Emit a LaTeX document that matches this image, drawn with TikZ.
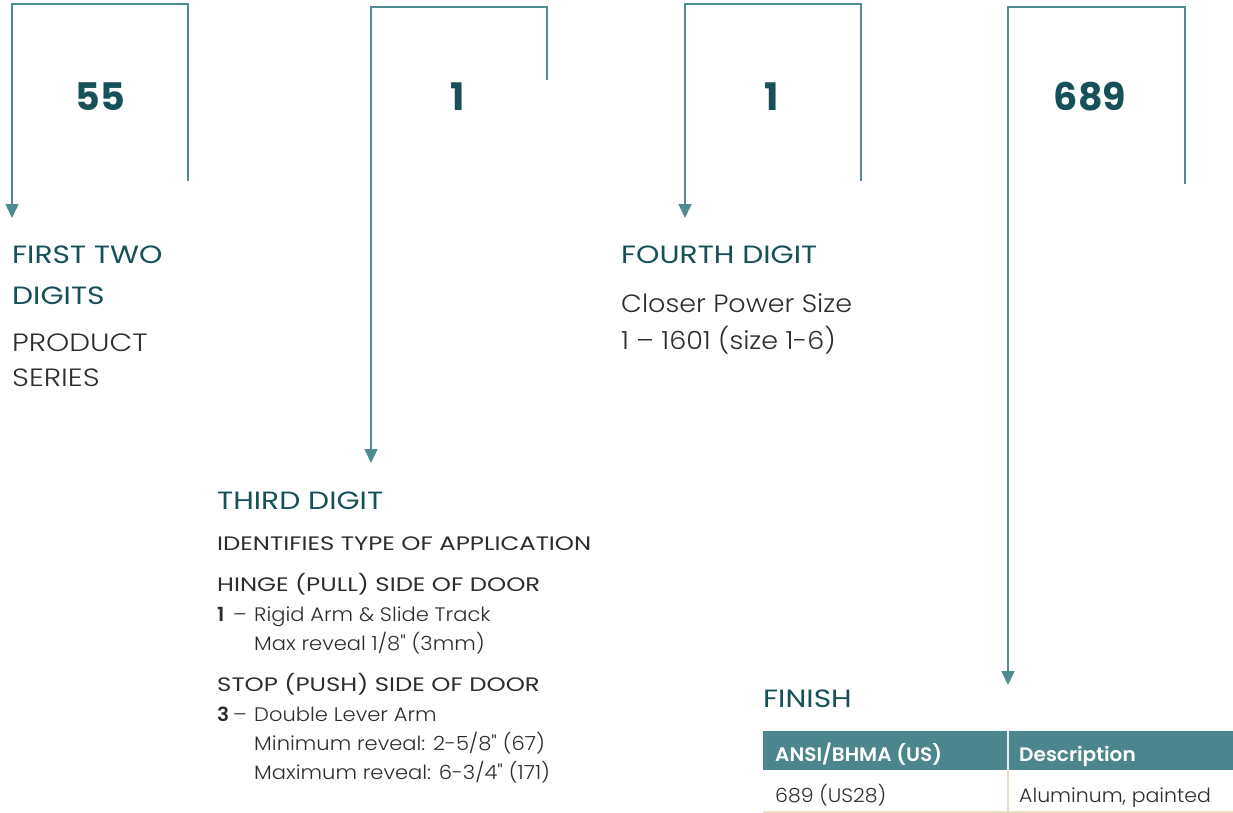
\documentclass[tikz,border=0pt]{standalone}
\usepackage{fontspec}
\setmainfont{Poppins}
\IfFontExistsTF{Poppins Light}{\def\lightname{Poppins Light}}{\def\lightname{Poppins}}
\IfFontExistsTF{Poppins SemiBold}{\def\seminame{Poppins SemiBold}}{\def\seminame{Poppins Medium}}
\newfontfamily\titlefont{Poppins}[FakeStretch=1.19]
\newfontfamily\capsfont{Poppins}[FakeStretch=1.25]
\newfontfamily\capslight{\lightname}[FakeStretch=1.18]
\newfontfamily\lightfont{\lightname}[FakeStretch=1.08]
\newfontfamily\tablight{\lightname}[FakeStretch=1.05]
\IfFontExistsTF{\seminame}{\newfontfamily\semifont{\seminame}[FakeStretch=1.03]}{\newfontfamily\semifont{Poppins}[FakeBold=1.2]}
\usetikzlibrary{arrows.meta}

\definecolor{lineteal}{RGB}{78,140,146}
\definecolor{darkteal}{RGB}{22,80,88}
\definecolor{headteal}{RGB}{75,134,140}
\definecolor{bodygrey}{RGB}{45,45,45}
\definecolor{rulebeige}{RGB}{236,222,196}

\tikzset{
  bracket/.style={draw=lineteal, line width=1.4pt, -{Triangle[length=14pt,width=13pt]}},
  digit/.style={inner sep=0pt, text=darkteal, font=\bfseries\fontsize{38}{40}\selectfont},
  title/.style={anchor=base west, inner sep=0pt, text=darkteal, font=\titlefont\fontsize{25}{30}\selectfont},
  bigcaps/.style={anchor=base west, inner sep=0pt, text=bodygrey, font=\capslight\fontsize{25}{30}\selectfont},
  bigtext/.style={anchor=base west, inner sep=0pt, text=bodygrey, font=\lightfont\fontsize{25}{30}\selectfont},
  caps/.style={anchor=base west, inner sep=0pt, text=bodygrey, font=\capsfont\fontsize{19.5}{24}\selectfont},
  lighttext/.style={anchor=base west, inner sep=0pt, text=bodygrey, font=\lightfont\fontsize{19.5}{24}\selectfont},
  cell/.style={anchor=base west, inner sep=0pt, font=\fontsize{19.5}{24}\selectfont}
}

\begin{document}
\begin{tikzpicture}[x=1pt,y=-1pt]
  \useasboundingbox (0,0) rectangle (1233,813);

  % the code digits
  \node[digit] (d55) at (100,97) {55};
  \node[digit] (d1) at (458,97) {1};
  \node[digit] (d2) at (772,97) {1};
  \node[digit] (d689) at (1090,97) {689};

  % bracket ends
  \coordinate (r1) at (188,181);
  \coordinate (t1) at (12,4);
  \coordinate (a1) at (12,218);
  \coordinate (r2) at (547,80);
  \coordinate (t2) at (371,7);
  \coordinate (a2) at (371,463);
  \coordinate (r3) at (861,181);
  \coordinate (t3) at (685,4);
  \coordinate (a3) at (685,218);
  \coordinate (r4) at (1185,184);
  \coordinate (t4) at (1008,7);
  \coordinate (a4) at (1008,685);

  \draw[bracket] (r1) |- (t1) -- (a1);
  \draw[bracket] (r2) |- (t2) -- (a2);
  \draw[bracket] (r3) |- (t3) -- (a3);
  \draw[bracket] (r4) |- (t4) -- (a4);

  % first two digits
  \node[title] (first) at (12,263) {FIRST TWO};
  \node[title] (digits) at (12,304) {DIGITS};
  \node[bigcaps] (product) at (12,351) {PRODUCT};
  \node[bigcaps] (series) at (12,386) {SERIES};

  % third digit
  \node[title] (third) at (217,509) {THIRD DIGIT};
  \node[caps] (ident) at (217,550) {IDENTIFIES TYPE OF APPLICATION};
  \node[caps] (hinge) at (217,591) {HINGE (PULL) SIDE OF DOOR};
  \node[cell, text=bodygrey] (one) at (217,621) {\makebox[16pt][l]{\semifont 1}{\lightfont –}};
  \node[lighttext] (rigid) at (254,621) {Rigid Arm \& Slide Track};
  \node[lighttext] (maxrev) at (254,650) {Max reveal 1/8" (3mm)};
  \node[caps] (stop) at (217,691) {STOP (PUSH) SIDE OF DOOR};
  \node[cell, text=bodygrey] (three) at (217,721) {\makebox[16pt][l]{\semifont 3}{\lightfont –}};
  \node[lighttext] (double) at (254,721) {Double Lever Arm};
  \node[lighttext] (minrev) at (254,750) {Minimum reveal: 2-5/8" (67)};
  \node[lighttext] (maxirev) at (254,779) {Maximum reveal: 6-3/4" (171)};

  % fourth digit
  \node[title] (fourth) at (621,263) {FOURTH DIGIT};
  \node[bigtext] (closer) at (621,312) {Closer Power Size};
  \node[bigtext] (range) at (621,349) {1 – 1601 (size 1-6)};

  % finish
  \node[title] (finish) at (763,707) {FINISH};
  \fill[headteal] (763,731) rectangle (1233,770);
  \draw[white!85!gray, line width=2pt] (1008,731) -- (1008,770);
  \draw[rulebeige, line width=2pt] (1008,770) -- (1008,812);
  \draw[rulebeige, line width=2pt] (763,812) -- (1233,812);
  \node[cell, text=white] (ansi) at (775,761) {\semifont ANSI/BHMA (US)};
  \node[cell, text=white] (desc) at (1019,761) {\semifont Description};
  \node[cell, text=bodygrey] (code) at (775,802) {\tablight 689 (US28)};
  \node[cell, text=bodygrey] (alu) at (1019,802) {\tablight Aluminum, painted};
\end{tikzpicture}
\end{document}
